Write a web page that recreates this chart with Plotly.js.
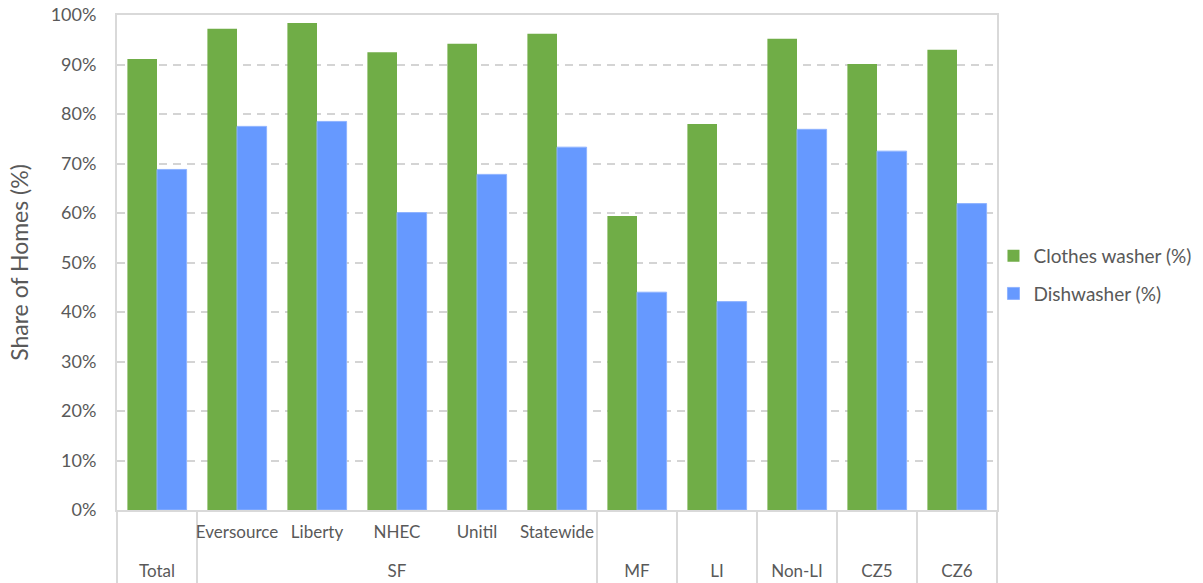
<!DOCTYPE html>
<html>
<head>
<meta charset="utf-8">
<script src="https://cdn.plot.ly/plotly-3.0.1.min.js"></script>
<style>html,body{margin:0;padding:0;background:#fff}#chart{width:1203px;height:583px}</style>
</head>
<body>
<div id="chart"></div>
<script>
// Group (outer level) and subgroup (inner level) labels
const groups    = ["Total", "SF", "SF", "SF", "SF", "SF", "MF", "LI", "Non-LI", "CZ5", "CZ6"];
const subgroups = [" ", "Eversource", "Liberty", "NHEC", "Unitil", "Statewide", "  ", "   ", "    ", "     ", "      "];
const seriesNames = ["Clothes washer (%)", "Dishwasher (%)"];
const clothesWasher = [91.1, 97.2, 98.4, 92.5, 94.2, 96.2, 59.4, 78.0, 95.2, 90.1, 93.0];
const dishwasher    = [68.8, 77.5, 78.5, 60.1, 67.8, 73.3, 44.0, 42.1, 76.9, 72.5, 61.9];
const yTicks = [0, 10, 20, 30, 40, 50, 60, 70, 80, 90, 100];

const font = "Lato, 'Open Sans', sans-serif";
// inner labels get a blank second line so the outer row sits lower, as in the reference
const xm = [groups, subgroups.map(s => s + "<br> ")];

const data = [
  {type: "bar", name: seriesNames[0], x: xm, y: clothesWasher, legendgroup: "a",
   marker: {color: "#70AD47"}, hoverinfo: "skip"},
  {type: "bar", name: seriesNames[1], x: xm, y: dishwasher, legendgroup: "b",
   marker: {color: "#6699FF", line: {color: "#8fb3ff", width: 1}}, hoverinfo: "skip"}
];

const layout = {
  width: 1203, height: 583,
  margin: {l: 117, r: 206, t: 15, b: 73, autoexpand: false},
  paper_bgcolor: "#fff", plot_bgcolor: "#fff",
  barmode: "group", bargap: 0.26, bargroupgap: 0,
  font: {family: font, color: "#595959", size: 17},
  showlegend: true,
  legend: {x: 0.996, y: 0.475, xanchor: "left", yanchor: "middle",
           bgcolor: "rgba(0,0,0,0)",
           traceorder: "grouped", tracegroupgap: 10,
           font: {size: 19, color: "#595959"}, itemwidth: 30},
  xaxis: {
    type: "multicategory",
    showline: true, linecolor: "#d9d9d9", linewidth: 2, mirror: true,
    showgrid: false, ticks: "", tickangle: 0, ticklabelstandoff: 6,
    showdividers: true, dividercolor: "#d9d9d9", dividerwidth: 2,
    tickfont: {size: 17, color: "#595959"}
  },
  yaxis: {
    range: [0, 100], tickvals: yTicks, ticktext: yTicks.map(v => v + "%"),
    showline: true, linecolor: "#d9d9d9", linewidth: 2, mirror: true,
    showgrid: true, gridcolor: "#d4d4d4", griddash: "8px,6px", gridwidth: 2,
    zeroline: false, ticks: "", ticklen: 0, ticklabelstandoff: 15,
    tickfont: {size: 18, color: "#595959"},
    title: {text: "Share of Homes (%)", font: {size: 23, color: "#595959"}, standoff: 16}
  }
};

Plotly.newPlot("chart", data, layout, {displayModeBar: false, staticPlot: true});
</script>
</body>
</html>
